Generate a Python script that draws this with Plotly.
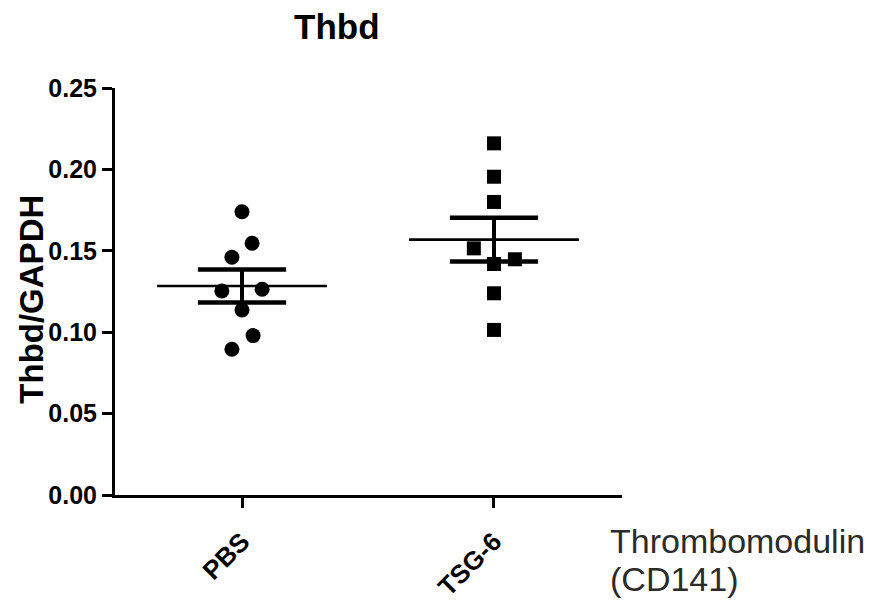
import numpy as np
import plotly.graph_objects as go

# ---- data ----
categories = ["PBS", "TSG-6"]
pbs_values = [0.174, 0.1546, 0.146, 0.1253, 0.1264, 0.1136, 0.0979, 0.0895]
pbs_jitter = [0.0, 0.04, -0.04, -0.08, 0.08, 0.0, 0.044, -0.04]
tsg_values = [0.216, 0.1955, 0.180, 0.1515, 0.1419, 0.1448, 0.1239, 0.1014]
tsg_jitter = [0.0, 0.0, 0.0, -0.08, 0.0, 0.083, 0.0, 0.0]
y_tickvals = [0.00, 0.05, 0.10, 0.15, 0.20, 0.25]
y_ticktext = ["0.00", "0.05", "0.10", "0.15", "0.20", "0.25"]

groups = [
    (pbs_values, pbs_jitter, "circle", 15),
    (tsg_values, tsg_jitter, "square", 14),
]

BOLD = "Liberation Sans, Arial"

fig = go.Figure()

mean_half = 0.337
sem_half = 0.175
for i, (vals, jit, sym, sz) in enumerate(groups):
    v = np.array(vals)
    m = v.mean()
    sem = v.std(ddof=1) / np.sqrt(len(v))
    fig.add_trace(go.Scatter(x=[i - mean_half, i + mean_half], y=[m, m], mode="lines",
                             line=dict(color="black", width=2.6), hoverinfo="skip", showlegend=False))
    for yy in (m - sem, m + sem):
        fig.add_trace(go.Scatter(x=[i - sem_half, i + sem_half], y=[yy, yy], mode="lines",
                                 line=dict(color="black", width=4.5), hoverinfo="skip", showlegend=False))
    fig.add_trace(go.Scatter(x=[i, i], y=[m - sem, m + sem], mode="lines",
                             line=dict(color="black", width=4), hoverinfo="skip", showlegend=False))
    fig.add_trace(go.Scatter(x=[i + j for j in jit], y=vals, mode="markers",
                             marker=dict(symbol=sym, size=sz, color="black", line=dict(width=0)),
                             showlegend=False, name=categories[i]))

fig.update_layout(
    width=872, height=603,
    margin=dict(l=115, r=250, t=88, b=108),
    plot_bgcolor="white", paper_bgcolor="white",
    xaxis=dict(range=[-0.504, 1.508], tickvals=[0, 1], ticktext=categories,
               tickangle=-45, showline=True, linecolor="black", linewidth=3,
               ticks="outside", ticklen=10, tickwidth=3, tickcolor="black",
               ticklabelstandoff=8, automargin=False,
               showgrid=False, zeroline=False,
               tickfont=dict(family=BOLD, size=26, color="black", weight="bold")),
    yaxis=dict(range=[0, 0.25], tickvals=y_tickvals, ticktext=y_ticktext,
               showline=True, linecolor="black", linewidth=3,
               ticks="outside", ticklen=10, tickwidth=3, tickcolor="black",
               automargin=False,
               showgrid=False, zeroline=False,
               tickfont=dict(family=BOLD, size=25, color="black", weight="bold")),
    annotations=[
        dict(text="Thbd", xref="paper", yref="paper", x=0.438, y=1.152,
             xanchor="center", yanchor="middle", showarrow=False,
             font=dict(family=BOLD, size=35, color="black", weight="bold")),
        dict(text="Thbd/GAPDH", xref="paper", yref="paper", x=-0.164, y=0.482,
             xanchor="center", yanchor="middle", showarrow=False, textangle=-90,
             font=dict(family=BOLD, size=33, color="black", weight="bold")),
        dict(text="Thrombomodulin", xref="paper", yref="paper", x=0.972, y=-0.113,
             xanchor="left", yanchor="middle", showarrow=False,
             font=dict(family="Liberation Sans, Arial", size=34, color="#2b2b2b")),
        dict(text="(CD141)", xref="paper", yref="paper", x=0.972, y=-0.206,
             xanchor="left", yanchor="middle", showarrow=False,
             font=dict(family="Liberation Sans, Arial", size=34, color="#2b2b2b")),
    ],
)

fig.write_html("out.html")
